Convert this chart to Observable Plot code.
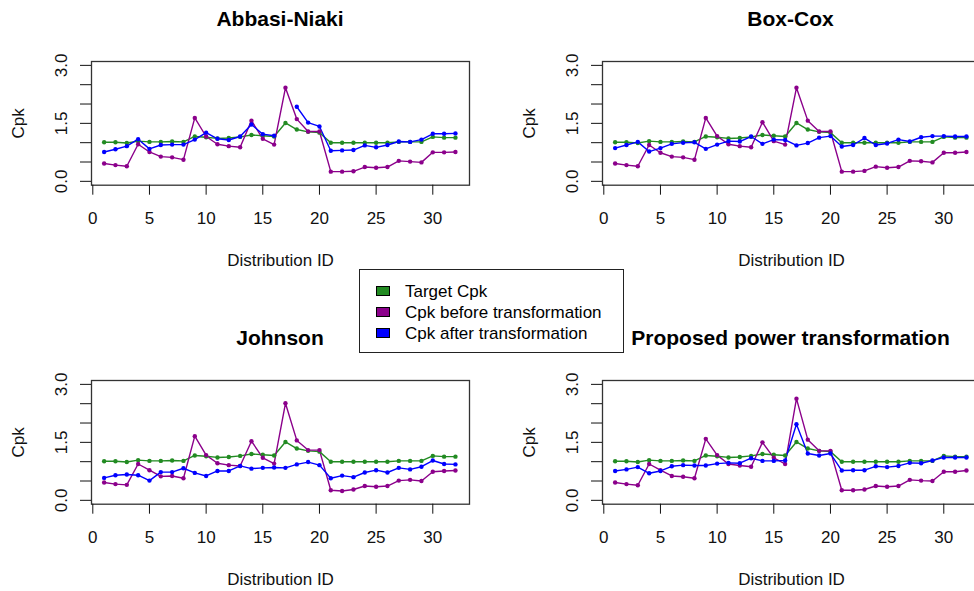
<!DOCTYPE html>
<html><head><meta charset="utf-8">
<script src="https://cdn.jsdelivr.net/npm/d3@7"></script>
<script src="https://cdn.jsdelivr.net/npm/@observablehq/plot@0.6"></script>
<style>
html,body{margin:0;padding:0;background:#fff;overflow:hidden;}
#root{position:relative;width:974px;height:591px;overflow:hidden;font-family:"Liberation Sans",Arial,sans-serif;color:#000;}
.panel{position:absolute;width:511px;height:319px;}
.panel svg{max-width:none !important;width:511px;height:319px;}
.title{position:absolute;text-align:center;font-weight:bold;font-size:21px;line-height:21px;white-space:nowrap;}
#legend{position:absolute;left:359px;top:269px;width:263px;height:82px;border:1px solid #222;background:#fff;font-size:17px;}
.item{position:absolute;left:16px;height:21px;line-height:21px;white-space:nowrap;}
.sw{display:inline-block;width:12px;height:8px;border:1px solid #000;margin-right:15px;vertical-align:middle;position:relative;top:-2px;}
</style></head><body><div id="root"></div>
<script>
const ids = d3.range(1, 33);
const xTicks = [0, 5, 10, 15, 20, 25, 30];
const yTicks = [0, 0.5, 1, 1.5, 2, 2.5, 3];
const yTickLabels = [0, 1.5, 3];
const seriesNames = ["Target Cpk", "Cpk before transformation", "Cpk after transformation"];
const seriesColors = ["#228B22", "#8B008B", "#0000FF"];
const titles = ["Abbasi-Niaki", "Box-Cox", "Johnson", "Proposed power transformation"];

const target = [1.01,1.01,0.99,1.04,1.02,1.02,1.03,1.02,1.16,1.14,1.11,1.12,1.15,1.20,1.18,1.16,1.51,1.34,1.28,1.26,1.00,1.00,1.00,1.00,1.00,1.00,1.02,1.02,1.02,1.15,1.13,1.13];

const beforeAbbasi = [0.46,0.42,0.39,0.96,0.76,0.64,0.62,0.56,1.64,1.16,0.96,0.91,0.88,1.57,1.10,0.95,2.42,1.61,1.29,1.29,0.25,0.25,0.26,0.37,0.35,0.37,0.53,0.51,0.49,0.75,0.75,0.76];
const beforeBoxCox = [0.46,0.42,0.39,0.94,0.74,0.64,0.62,0.56,1.64,1.17,0.96,0.91,0.88,1.53,1.04,0.95,2.42,1.57,1.29,1.29,0.25,0.25,0.27,0.38,0.35,0.37,0.53,0.52,0.49,0.74,0.74,0.76];
const beforeJohnson = [0.46,0.42,0.40,0.94,0.78,0.62,0.63,0.57,1.66,1.17,0.96,0.91,0.89,1.53,1.10,0.95,2.51,1.55,1.30,1.30,0.26,0.24,0.28,0.37,0.35,0.37,0.51,0.53,0.50,0.74,0.76,0.77];
const beforeProposed = [0.46,0.42,0.39,0.94,0.78,0.63,0.61,0.57,1.59,1.17,0.94,0.90,0.87,1.50,1.10,0.94,2.63,1.57,1.28,1.28,0.26,0.26,0.28,0.37,0.35,0.37,0.53,0.51,0.50,0.74,0.74,0.77];

const afterAbbasi = [0.76,0.83,0.91,1.09,0.84,0.94,0.95,0.95,1.08,1.26,1.10,1.07,1.16,1.47,1.22,1.18,null,1.93,1.52,1.42,0.79,0.80,0.81,0.93,0.88,0.94,1.03,1.02,1.08,1.23,1.23,1.24];
const afterBoxCox = [0.86,0.94,1.02,0.77,0.86,0.97,1.00,1.01,0.84,0.95,1.04,1.03,1.16,0.97,1.08,1.07,0.93,0.99,1.13,1.17,0.90,0.94,1.12,0.94,0.98,1.08,1.03,1.14,1.17,1.17,1.16,1.16];
const afterJohnson = [0.58,0.65,0.67,0.65,0.51,0.73,0.73,0.83,0.71,0.63,0.76,0.76,0.89,0.82,0.84,0.85,0.84,0.93,0.99,0.91,0.57,0.64,0.60,0.72,0.78,0.72,0.84,0.80,0.87,1.03,0.94,0.93];
const afterProposed = [0.76,0.80,0.86,0.70,0.76,0.88,0.91,0.90,0.90,0.95,0.97,0.96,1.09,1.02,1.02,1.03,1.97,1.21,1.16,1.21,0.77,0.78,0.78,0.88,0.86,0.89,0.97,0.96,1.03,1.11,1.11,1.11];

const panels = [
  {title: titles[0], before: beforeAbbasi, after: afterAbbasi},
  {title: titles[1], before: beforeBoxCox, after: afterBoxCox},
  {title: titles[2], before: beforeJohnson, after: afterJohnson},
  {title: titles[3], before: beforeProposed, after: afterProposed}
];

const FONT = '"Liberation Sans", Arial, sans-serif';
const PW = 511, PH = 319, DX = 510.5, DY = 319;
const root = document.getElementById("root");

panels.forEach((p, k) => {
  const col = k % 2, row = Math.floor(k / 2);
  const rows = [];
  [target, p.before, p.after].forEach((arr, s) => {
    arr.forEach((v, i) => rows.push({id: ids[i], value: v == null ? NaN : v, series: seriesNames[s]}));
  });
  const chart = Plot.plot({
    width: PW, height: PH,
    marginLeft: 91, marginRight: PW - 469, marginTop: 61, marginBottom: PH - 184.7,
    x: {domain: [-0.115, 33.24]},
    y: {domain: [-0.1, 3.1]},
    color: {domain: seriesNames, range: seriesColors},
    style: {fontFamily: FONT, fontSize: "17px", color: "#111", background: "transparent", overflow: "visible", maxWidth: "none"},
    marks: [
      Plot.frame({stroke: "#333", strokeWidth: 1.3}),
      Plot.axisX({ticks: xTicks, tickSize: 10, tickPadding: 17, tickFormat: d => String(d),
        label: "Distribution ID", labelArrow: false, labelAnchor: "center", labelOffset: 81}),
      Plot.axisY({ticks: yTicks, tickSize: 11, tickPadding: 14, tickRotate: -90,
        tickFormat: d => yTickLabels.includes(d) ? d.toFixed(1) : "",
        label: "Cpk", labelArrow: false, labelAnchor: "center", labelOffset: 80}),
      Plot.line(rows, {x: "id", y: "value", z: "series", stroke: "series", strokeWidth: 1.4}),
      Plot.dot(rows, {x: "id", y: "value", fill: "series", r: 2.2})
    ]
  });
  const div = document.createElement("div");
  div.className = "panel";
  div.style.left = (col * DX) + "px";
  div.style.top = (row * DY) + "px";
  div.appendChild(chart);
  root.appendChild(div);
  const t = document.createElement("div");
  t.className = "title";
  t.textContent = p.title;
  t.style.left = (col * DX + 91) + "px";
  t.style.width = (469 - 91) + "px";
  t.style.top = (row * DY + 7.5) + "px";
  root.appendChild(t);
});

const legend = document.createElement("div");
legend.id = "legend";
seriesNames.forEach((n, i) => {
  const it = document.createElement("div");
  it.className = "item";
  it.style.top = (11 + i * 21) + "px";
  const sw = document.createElement("span");
  sw.className = "sw";
  sw.style.background = seriesColors[i];
  it.appendChild(sw);
  it.appendChild(document.createTextNode(n));
  legend.appendChild(it);
});
root.appendChild(legend);
</script></body></html>
